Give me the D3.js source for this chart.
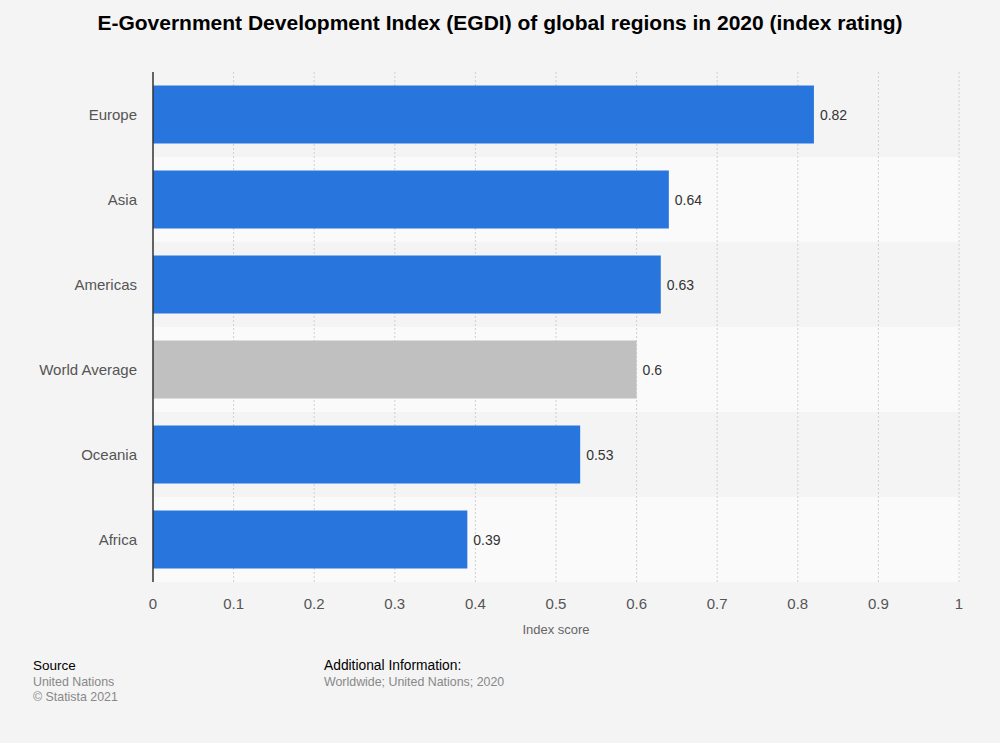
<!DOCTYPE html>
<html><head><meta charset="utf-8">
<script src="https://cdn.jsdelivr.net/npm/d3@7"></script>
<style>body{margin:0;background:#f4f4f4;font-family:"Liberation Sans",Arial,Helvetica,sans-serif;}</style>
</head><body>
<svg id="c" width="1000" height="743"></svg>
<script>
const categories = ["Europe","Asia","Americas","World Average","Oceania","Africa"];
const values = [0.82,0.64,0.63,0.6,0.53,0.39];
const highlight = ["World Average"];
const ticks = [0,0.1,0.2,0.3,0.4,0.5,0.6,0.7,0.8,0.9,1];

const svg = d3.select("#c");
svg.append("rect").attr("width",1000).attr("height",743).attr("fill","#f4f4f4");
const L=153,R=959,T=72,B=582;
const x = d3.scaleLinear().domain([0,1]).range([L,R]);
const y = d3.scaleBand().domain(categories).range([T,B]).paddingInner(0).paddingOuter(0);

svg.append("text").attr("x",500).attr("y",30).attr("text-anchor","middle")
  .attr("font-size",21).attr("font-weight","bold").attr("fill","#000")
  .text("E-Government Development Index (EGDI) of global regions in 2020 (index rating)");

svg.selectAll(".band").data(categories).enter().append("rect")
  .attr("x",L).attr("y",d=>y(d)).attr("width",R-L+1).attr("height",y.bandwidth())
  .attr("fill",(d,i)=>i%2? "#fafafa":"#f4f4f4");

svg.selectAll(".grid").data(ticks.slice(1)).enter().append("line")
  .attr("x1",d=>x(d)).attr("x2",d=>x(d)).attr("y1",T).attr("y2",B)
  .attr("stroke","#d0d0d0").attr("stroke-dasharray","2,2").attr("stroke-width",1);

const bh = 58, off = (y.bandwidth()-bh)/2;
svg.selectAll(".bar").data(categories).enter().append("rect")
  .attr("x",x(0)).attr("y",d=>y(d)+off).attr("height",bh)
  .attr("width",(d,i)=>x(values[i])-x(0))
  .attr("fill",d=>highlight.includes(d)?"#c0c0c0":"#2876dd");

svg.selectAll(".val").data(categories).enter().append("text")
  .attr("x",(d,i)=>x(values[i])+6).attr("y",d=>y(d)+y.bandwidth()/2+5)
  .attr("font-size",14).attr("fill","#333")
  .text((d,i)=>values[i]);

svg.selectAll(".cat").data(categories).enter().append("text")
  .attr("x",137).attr("y",d=>y(d)+y.bandwidth()/2+5).attr("text-anchor","end")
  .attr("font-size",15).attr("fill","#555").text(d=>d);

svg.append("line").attr("x1",L).attr("x2",L).attr("y1",T).attr("y2",B)
  .attr("stroke","#333").attr("stroke-width",1.5);

svg.selectAll(".tick").data(ticks).enter().append("text")
  .attr("x",d=>x(d)).attr("y",609).attr("text-anchor","middle")
  .attr("font-size",15).attr("fill","#555").text(d=>d);

svg.append("text").attr("x",556).attr("y",634).attr("text-anchor","middle")
  .attr("font-size",13).attr("fill","#666").text("Index score");

svg.append("text").attr("x",33).attr("y",670).attr("font-size",13.5).attr("fill","#000").text("Source");
svg.append("text").attr("x",33).attr("y",686).attr("font-size",12.4).attr("fill","#888").text("United Nations");
svg.append("text").attr("x",33).attr("y",701).attr("font-size",12.4).attr("fill","#888").text("© Statista 2021");
svg.append("text").attr("x",324).attr("y",670).attr("font-size",13.8).attr("fill","#000").text("Additional Information:");
svg.append("text").attr("x",324).attr("y",686).attr("font-size",12.4).attr("fill","#888").text("Worldwide; United Nations; 2020");
</script>
</body></html>
